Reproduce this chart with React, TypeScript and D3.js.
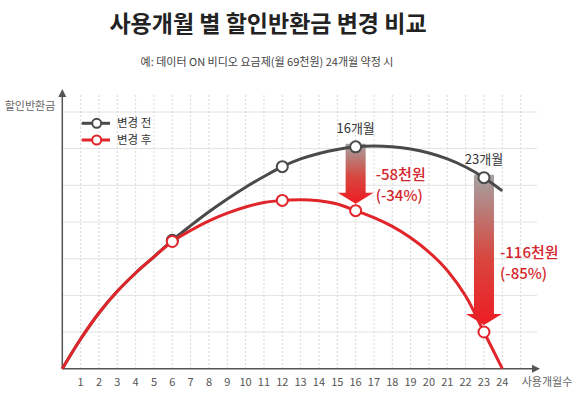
import { useRef, useEffect } from 'react'
import * as d3 from 'd3'

// months 0..24
const months = d3.range(0, 25)
const beforeValues = [0, 0.81, 1.52, 2.11, 2.61, 3.05, 3.5, 3.9, 4.28, 4.63, 4.95, 5.24, 5.51, 5.72, 5.87, 5.98, 6.05, 6.07, 6.05, 5.99, 5.88, 5.72, 5.5, 5.21, 4.85]
const afterValues = [0, 0.81, 1.52, 2.11, 2.61, 3.05, 3.47, 3.77, 4.03, 4.24, 4.41, 4.53, 4.59, 4.61, 4.58, 4.49, 4.31, 4.12, 3.88, 3.57, 3.18, 2.68, 1.98, 1.0, 0]
const markerMonths = [6, 12, 16, 23]
const tickLabels = d3.range(1, 25)

const seriesNames = ['변경 전', '변경 후']
const callouts = [
  { month: 16, label: '16개월', amount: '-58천원', pct: '(-34%)' },
  { month: 23, label: '23개월', amount: '-116천원', pct: '(-85%)' },
]

const GRAY = '#4a4a4a'
const RED = '#e0252b'
const FONT = '"Noto Sans CJK KR", "Noto Sans", sans-serif'

export default function App() {
  const svgRef = useRef<SVGSVGElement>(null)

  useEffect(() => {
    if (!svgRef.current) return
    const w = 580
    const h = 394
    const svg = d3.select(svgRef.current)
    svg.selectAll('*').remove()
    svg.attr('width', w).attr('height', h)

    const x = d3.scaleLinear().domain([0, 24]).range([62.3, 502.3])
    const y = d3.scaleLinear().domain([0, 7]).range([368.7, 112])

    // title
    svg.append('text')
      .attr('x', 268).attr('y', 32)
      .attr('text-anchor', 'middle')
      .attr('font-family', FONT).attr('font-size', 23).attr('font-weight', 700)
      .attr('fill', '#222')
      .text('사용개월 별 할인반환금 변경 비교')
    svg.append('text')
      .attr('x', 267).attr('y', 65.5)
      .attr('text-anchor', 'middle')
      .attr('font-family', FONT).attr('font-size', 11)
      .attr('fill', '#444')
      .text('예: 데이터 ON 비디오 요금제(월 69천원) 24개월 약정 시')

    const gridRight = 537
    // horizontal grid
    svg.append('g').selectAll('line')
      .data(d3.range(1, 8))
      .join('line')
      .attr('x1', x(0)).attr('x2', gridRight)
      .attr('y1', d => y(d)).attr('y2', d => y(d))
      .attr('stroke', '#e2e2e2').attr('stroke-width', 1)
    // vertical grid (dotted)
    svg.append('g').selectAll('line')
      .data(d3.range(1, 26))
      .join('line')
      .attr('x1', d => x(d)).attr('x2', d => x(d))
      .attr('y1', 95).attr('y2', y(0))
      .attr('stroke', '#d8d8d8').attr('stroke-width', 1)
      .attr('stroke-dasharray', '2,2')

    // axes
    svg.append('line')
      .attr('x1', x(0)).attr('x2', x(0)).attr('y1', y(0)).attr('y2', 96)
      .attr('stroke', '#555').attr('stroke-width', 1.5)
    svg.append('path')
      .attr('d', `M${x(0) - 4},97 L${x(0)},89 L${x(0) + 4},97 Z`)
      .attr('fill', '#555')
    svg.append('line')
      .attr('x1', x(0)).attr('x2', 533).attr('y1', y(0)).attr('y2', y(0))
      .attr('stroke', '#555').attr('stroke-width', 1.5)
    svg.append('path')
      .attr('d', `M532,${y(0) - 4} L540,${y(0)} L532,${y(0) + 4} Z`)
      .attr('fill', '#555')

    svg.append('text')
      .attr('x', 30).attr('y', 110)
      .attr('text-anchor', 'middle')
      .attr('font-family', FONT).attr('font-size', 11).attr('fill', '#666')
      .text('할인반환금')
    svg.append('text')
      .attr('x', 547).attr('y', 385.5)
      .attr('text-anchor', 'middle')
      .attr('font-family', FONT).attr('font-size', 11).attr('fill', '#666')
      .text('사용개월수')

    svg.append('g').selectAll('text')
      .data(tickLabels)
      .join('text')
      .attr('x', d => x(d)).attr('y', 385.5)
      .attr('text-anchor', 'middle')
      .attr('font-family', FONT).attr('font-size', 11).attr('fill', '#555')
      .text(d => d)

    // gradient arrows
    const defs = svg.append('defs')
    const grad = defs.append('linearGradient')
      .attr('id', 'arrowGrad').attr('x1', 0).attr('y1', 0).attr('x2', 0).attr('y2', 1)
    grad.append('stop').attr('offset', '0%').attr('stop-color', '#a3a3a3')
    grad.append('stop').attr('offset', '55%').attr('stop-color', '#d8473f')
    grad.append('stop').attr('offset', '100%').attr('stop-color', '#ee1c24')

    callouts.forEach(c => {
      const cx = x(c.month)
      const y0 = y(beforeValues[c.month]) - 3
      const y1 = y(afterValues[c.month]) - 7
      const shaft = 10
      const head = 18
      const headH = 11
      svg.append('path')
        .attr('d', `M${cx - shaft},${y0} L${cx + shaft},${y0} L${cx + shaft},${y1 - headH} L${cx + head},${y1 - headH} L${cx},${y1} L${cx - head},${y1 - headH} L${cx - shaft},${y1 - headH} Z`)
        .attr('fill', 'url(#arrowGrad)')
    })

    const line = d3.line<number>()
      .x((_, i) => x(months[i]))
      .y(d => y(d))
      .curve(d3.curveCatmullRom.alpha(0.5))

    svg.append('path')
      .attr('d', line(beforeValues) ?? '')
      .attr('fill', 'none').attr('stroke', GRAY).attr('stroke-width', 3)
    svg.append('path')
      .attr('d', line(afterValues) ?? '')
      .attr('fill', 'none').attr('stroke', RED).attr('stroke-width', 3)

    const drawMarkers = (vals: number[], color: string) => {
      svg.append('g').selectAll('circle')
        .data(markerMonths)
        .join('circle')
        .attr('cx', d => x(d)).attr('cy', d => y(vals[d]))
        .attr('r', 5.5)
        .attr('fill', '#fff').attr('stroke', color).attr('stroke-width', 2)
    }
    drawMarkers(beforeValues, GRAY)
    drawMarkers(afterValues, RED)

    // callout labels
    callouts.forEach((c, i) => {
      const cx = x(c.month)
      svg.append('text')
        .attr('x', cx).attr('y', y(beforeValues[c.month]) - 14)
        .attr('text-anchor', 'middle')
        .attr('font-family', FONT).attr('font-size', 13).attr('fill', '#333')
        .text(c.label)
      const ty = i === 0 ? 180 : 258
      const tx = i === 0 ? cx + 20 : cx + 16
      svg.append('text')
        .attr('x', tx).attr('y', ty)
        .attr('font-family', FONT).attr('font-size', 15).attr('font-weight', 500).attr('fill', '#d4262c')
        .text(c.amount)
      svg.append('text')
        .attr('x', tx).attr('y', ty + 21)
        .attr('font-family', FONT).attr('font-size', 15).attr('font-weight', 500).attr('fill', '#d4262c')
        .text(c.pct)
    })

    // legend
    const legend = svg.append('g')
    seriesNames.forEach((name, i) => {
      const ly = 123.3 + i * 16.7
      const color = i === 0 ? GRAY : RED
      legend.append('line')
        .attr('x1', 81.7).attr('x2', 110).attr('y1', ly).attr('y2', ly)
        .attr('stroke', color).attr('stroke-width', 3)
      legend.append('circle')
        .attr('cx', 96.7).attr('cy', ly).attr('r', 4.5)
        .attr('fill', '#fff').attr('stroke', color).attr('stroke-width', 2)
      legend.append('text')
        .attr('x', 117).attr('y', ly + 4)
        .attr('font-family', FONT).attr('font-size', 11.5).attr('fill', '#333')
        .text(name)
    })

    return () => {
      svg.selectAll('*').remove()
    }
  }, [])

  return (
    <div style={{ position: 'absolute', left: 0, top: 0, background: '#fff' }}>
      <svg ref={svgRef} style={{ display: 'block' }} />
    </div>
  )
}
